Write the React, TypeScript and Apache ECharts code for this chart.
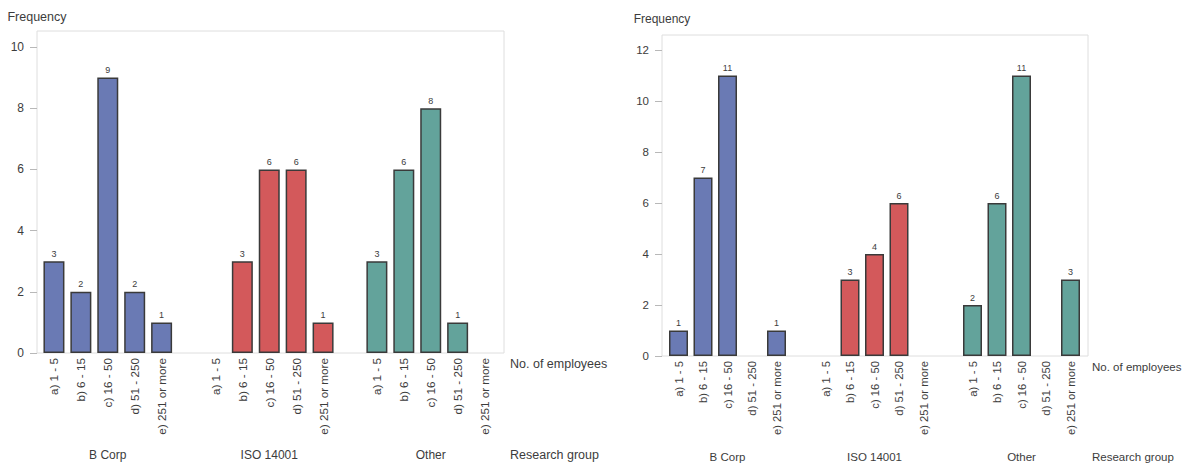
import React, { useEffect, useRef } from "react";
import * as echarts from "echarts";

const sizeLabels = ["a) 1 - 5", "b) 6 - 15", "c) 16 - 50", "d) 51 - 250", "e) 251 or more"];
const groupNames = ["B Corp", "ISO 14001", "Other"];
const groupColors = ["#6a7ab4", "#d3595b", "#63a39b"];

// Left chart (frequency by no. of employees)
const leftBCorp = [3, 2, 9, 2, 1];
const leftISO = [0, 3, 6, 6, 1];
const leftOther = [3, 6, 8, 1, 0];
const leftTicks = [0, 2, 4, 6, 8, 10];

// Right chart
const rightBCorp = [1, 7, 11, 0, 1];
const rightISO = [0, 3, 4, 6, 0];
const rightOther = [2, 6, 11, 0, 3];
const rightTicks = [0, 2, 4, 6, 8, 10, 12];

const FONT = "'Liberation Sans', Arial, sans-serif";
const TXT = "#3c3c3c";

function buildCategories() {
  const cats: string[] = [];
  const groupCats: string[] = [];
  groupNames.forEach((g, gi) => {
    sizeLabels.forEach((s, si) => {
      cats.push(s);
      groupCats.push(si === 2 ? g : "");
    });
    if (gi < groupNames.length - 1) {
      cats.push("");
      groupCats.push("");
    }
  });
  return { cats, groupCats };
}

function buildData(groups: number[][]) {
  const out: any[] = [];
  groups.forEach((vals, gi) => {
    vals.forEach((v) => {
      out.push(v > 0 ? { value: v, itemStyle: { color: groupColors[gi] } } : null);
    });
    if (gi < groups.length - 1) out.push(null);
  });
  return out;
}

export default function App() {
  const ref = useRef<HTMLDivElement>(null);
  useEffect(() => {
    document.body.style.margin = "0";
    if (!ref.current) return;
    const chart = echarts.init(ref.current, undefined, { renderer: "svg" });
    const { cats, groupCats } = buildCategories();

    const L = { frameL: 37, frameR: 504, frameT: 31, frameB: 353, gridL: 40.5, gridW: 457.5, gridT: 47, fs: 12, catFs: 11.7, bw: 21, nameGap: 24, grpMargin: 96 };
    const R = { frameL: 662, frameR: 1088, frameT: 35, frameB: 356, gridL: 666.25, gridW: 416.5, gridT: 50, fs: 11.5, catFs: 11.3, bw: 19, nameGap: 25, grpMargin: 95 };

    const yAxisFor = (g: any, idx: number, max: number, ticks: number[]) => ({
      type: "value",
      gridIndex: idx,
      min: 0,
      max,
      interval: 2,
      offset: g.gridL - g.frameL,
      name: "Frequency",
      nameLocation: "end",
      nameGap: g.nameGap,
      nameTextStyle: { color: TXT, fontFamily: FONT, fontSize: g.fs + 0.5, align: "center" },
      axisLine: { show: false },
      axisTick: { show: true, length: 7, lineStyle: { color: "#b8b8b8" }, customValues: ticks },
      axisLabel: { color: TXT, fontFamily: FONT, fontSize: g.fs, margin: 13, customValues: ticks },
      splitLine: { show: false },
    });

    const xAxesFor = (g: any, idx: number) => [
      {
        type: "category",
        gridIndex: idx,
        data: cats,
        position: "bottom",
        axisLine: { show: false },
        axisTick: { show: false },
        axisLabel: { interval: 0, rotate: 90, color: TXT, fontFamily: FONT, fontSize: g.catFs, margin: 5 },
      },
      {
        type: "category",
        gridIndex: idx,
        data: groupCats,
        position: "bottom",
        axisLine: { show: false },
        axisTick: { show: false },
        axisLabel: { interval: 0, color: TXT, fontFamily: FONT, fontSize: g.fs, margin: g.grpMargin },
      },
    ];

    const seriesFor = (g: any, idx: number, data: any[]) => ({
      type: "bar",
      xAxisIndex: idx * 2,
      yAxisIndex: idx,
      barWidth: g.bw,
      data,
      itemStyle: { borderColor: "#3a3a3a", borderWidth: 1.5 },
      label: { show: true, position: "top", distance: 3, fontSize: 9, color: TXT, fontFamily: FONT },
    });

    const frame = (g: any) => ({
      type: "rect",
      shape: { x: g.frameL, y: g.frameT, width: g.frameR - g.frameL, height: g.frameB - g.frameT },
      style: { fill: "none", stroke: "#dedede", lineWidth: 1 },
      z: -1,
    });
    const txt = (x: number, y: number, text: string, fs: number) => ({
      type: "text",
      x,
      y,
      style: { text, fill: TXT, font: `${fs}px ${FONT}`, textVerticalAlign: "middle", verticalAlign: "middle" },
    });

    chart.setOption({
      animation: false,
      backgroundColor: "#ffffff",
      grid: [
        { left: L.gridL, top: L.gridT, width: L.gridW, height: L.frameB - L.gridT },
        { left: R.gridL, top: R.gridT, width: R.gridW, height: R.frameB - R.gridT },
      ],
      xAxis: [...xAxesFor(L, 0), ...xAxesFor(R, 1)],
      yAxis: [yAxisFor(L, 0, 10, leftTicks), yAxisFor(R, 1, 12, rightTicks)],
      series: [
        seriesFor(L, 0, buildData([leftBCorp, leftISO, leftOther])),
        seriesFor(R, 1, buildData([rightBCorp, rightISO, rightOther])),
      ],
      graphic: [
        frame(L),
        frame(R),
        txt(510, 364, "No. of employees", 12.5),
        txt(510, 455, "Research group", 12.5),
        txt(1092, 367, "No. of employees", 11.5),
        txt(1092, 457, "Research group", 11.5),
      ],
    });
    return () => chart.dispose();
  }, []);
  return <div ref={ref} style={{ width: 1189, height: 465 }} />;
}
